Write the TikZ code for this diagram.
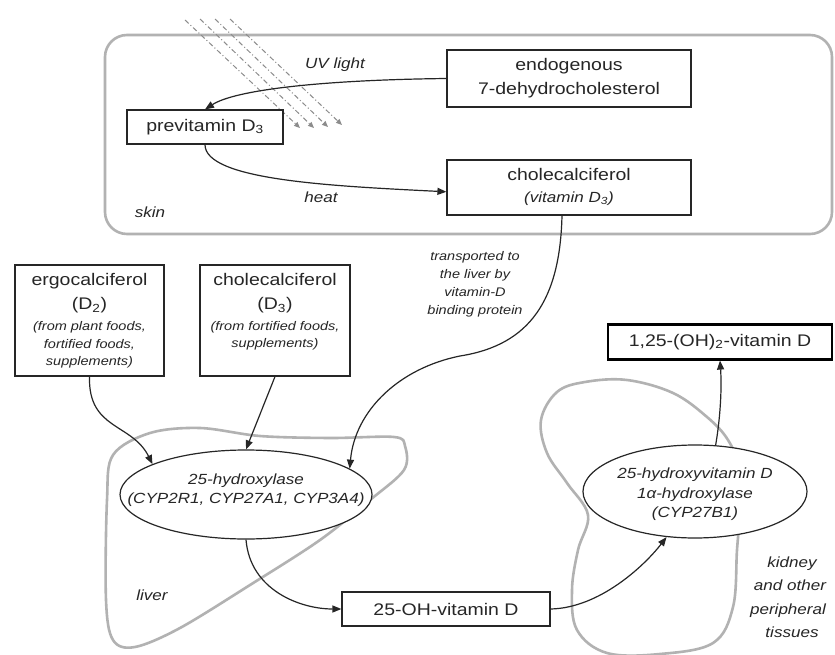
\documentclass[tikz,border=0pt]{standalone}
\usepackage{fontspec}
\setmainfont{Liberation Sans}[FakeStretch=1.16]
\usetikzlibrary{arrows.meta,shapes.geometric}
\definecolor{organ}{gray}{0.70}
\definecolor{raycol}{gray}{0.55}
\begin{document}
\begin{tikzpicture}[x=1pt,y=-1pt,
  box/.style={draw=black!85,line width=1.2pt,fill=white,inner sep=0pt},
  enz/.style={draw=black!85,line width=1.2pt,fill=white,ellipse,inner sep=0pt},
  arr/.style={draw=black!85,line width=1.2pt,-{Triangle[length=9pt,width=7pt]}},
  organline/.style={draw=organ,line width=2.6pt},
  t/.style={inner sep=0pt,text height=0.7em,text depth=0.2em,text=black!85},
  big/.style={font=\fontsize{16.8}{20}\selectfont},
  lab/.style={font=\fontsize{14.7}{18}\selectfont\itshape},
  small/.style={font=\fontsize{12.5}{16}\selectfont\itshape},
  rayline/.style={draw=raycol,line width=1pt,dash pattern=on 5pt off 2.5pt on 1pt off 2.5pt,-{Triangle[length=6pt,width=5pt]}}
]
\useasboundingbox (0,0) rectangle (835,655);
\fill[white] (0,0) rectangle (835,655);

% organs
\draw[organline, rounded corners=22pt] (105,35) rectangle (832,234);
\draw[organline] plot[smooth cycle, tension=0.55] coordinates {(150,433) (200,428) (260,436) (330,438) (394,437) (405,446) (404,470) (370,500) (320,540) (250,585) (180,628) (135,647) (113,640) (106,600) (107,500) (113,455)};
\draw[organline] plot[smooth cycle, tension=0.6] coordinates {(588,515) (567,483) (547,453) (541,420) (557,392) (585,382) (627,380) (673,393) (707,417) (728,440) (740,470) (740,510) (737,550) (733,607) (713,643) (660,654) (607,653) (577,630) (572,590) (578,550)};

% UV rays
\coordinate (r1s) at (185,20); \coordinate (r1e) at (300,128);
\coordinate (r2s) at (200,19); \coordinate (r2e) at (314,128);
\coordinate (r3s) at (215,19); \coordinate (r3e) at (328,127);
\coordinate (r4s) at (230,19); \coordinate (r4e) at (342,125);
\draw[rayline] (r1s) -- (r1e);
\draw[rayline] (r2s) -- (r2e);
\draw[rayline] (r3s) -- (r3e);
\draw[rayline] (r4s) -- (r4e);

% boxes
\node[box, minimum width=244pt, minimum height=57pt] (endo) at (569,78.5) {};
\node[box, big, text=black!85, minimum width=156pt, minimum height=34pt] (prev) at (205,127) {previtamin D\textsubscript{3}};
\node[box, minimum width=244pt, minimum height=55pt] (chol) at (569,187.5) {};
\node[box, minimum width=149pt, minimum height=111pt] (ergo) at (89.5,320.5) {};
\node[box, minimum width=150pt, minimum height=111pt] (dthree) at (275,320.5) {};
\node[enz, minimum width=252pt, minimum height=89pt] (hyd) at (246,494.5) {};
\node[box, big, text=black!85, minimum width=208pt, minimum height=34pt] (oh) at (446,609) {25-OH-vitamin D};
\node[enz, minimum width=224pt, minimum height=93pt] (kid) at (695,491.5) {};
\node[box, big, text=black!85, draw=black, line width=2.2pt, minimum width=224pt, minimum height=35pt] (rr) at (720,342) {1,25-(OH)\textsubscript{2}-vitamin D};

% texts
\node[t, big] (endo1) at (569,68) {endogenous};
\node[t, big] (endo2) at (569,92) {7-dehydrocholesterol};
\node[t, big] (chol1) at (569,178) {cholecalciferol};
\node[t, lab] (chol2) at (569,200) {(vitamin D\textsubscript{3})};
\node[t, lab] (uv) at (335,66) {UV light};
\node[t, lab] (heat) at (321,200) {heat};
\node[t, lab] (skin) at (150,215) {skin};

\node[t, big] (ergo1) at (89.5,283) {ergocalciferol};
\node[t, big] (ergo2) at (89.5,307) {(D\textsubscript{2})};
\node[t, small] (ergo3) at (89.5,328) {(from plant foods,};
\node[t, small] (ergo4) at (89.5,346) {fortified foods,};
\node[t, small] (ergo5) at (89.5,363) {supplements)};

\node[t, big] (dth1) at (275,283) {cholecalciferol};
\node[t, big] (dth2) at (275,307) {(D\textsubscript{3})};
\node[t, small] (dth3) at (275,328) {(from fortified foods,};
\node[t, small] (dth4) at (275,345) {supplements)};

\node[t, small] (tr1) at (475,258) {transported to};
\node[t, small] (tr2) at (475,276) {the liver by};
\node[t, small] (tr3) at (475,294) {vitamin-D};
\node[t, small] (tr4) at (475,312) {binding protein};

\node[t, lab] (hyd1) at (246,482) {25-hydroxylase};
\node[t, lab] (hyd2) at (246,501) {(CYP2R1, CYP27A1, CYP3A4)};
\node[t, lab] (liver) at (152,598) {liver};

\node[t, lab] (kid1) at (695,476) {25-hydroxyvitamin D};
\node[t, lab] (kid2) at (695,496) {1α-hydroxylase};
\node[t, lab] (kid3) at (695,515) {(CYP27B1)};

\node[t, lab] (kl1) at (792,565) {kidney};
\node[t, lab] (kl2) at (790,588) {and other};
\node[t, lab] (kl3) at (788,612) {peripheral};
\node[t, lab] (kl4) at (792,635) {tissues};

% connectors
\draw[arr] (endo.west) .. controls (320,80) and (235,90) .. (prev.north);
\draw[arr] (prev.south) .. controls (205,180) and (330,186) .. (chol.182);
\draw[arr] (chol.256) .. controls (560,300) and (530,345) .. (460,356) .. controls (400,368) and (355,410) .. (hyd.14);
\draw[arr] (ergo.south) .. controls (88,430) and (132,423) .. (hyd.162);
\draw[arr] (dthree.south) -- (hyd.north);
\draw[arr] (hyd.south) .. controls (250,590) and (300,609) .. (oh.west);
\draw[arr] (oh.east) .. controls (600,608) and (645,565) .. (kid.238);
\draw[arr] (kid.66) .. controls (720,420) and (722,390) .. (rr.south);
\end{tikzpicture}
\end{document}
